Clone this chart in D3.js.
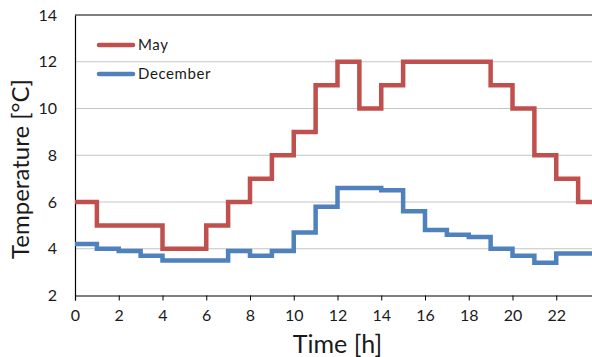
<!DOCTYPE html>
<html>
<head>
<meta charset="utf-8">
<script src="https://cdn.jsdelivr.net/npm/d3@7"></script>
<style>
  html, body { margin: 0; padding: 0; background: #fff; overflow: hidden; }
  svg { display: block; font-family: Lato, "Open Sans", sans-serif; }
</style>
</head>
<body>
<svg id="chart" width="592" height="357"></svg>
<script>
// Hourly temperature profiles (value holds from the hour until the next one)
const hours = d3.range(0, 24);
const mayTemps = [6, 5, 5, 5, 4, 4, 5, 6, 7, 8, 9, 11, 12, 10, 11, 12, 12, 12, 12, 11, 10, 8, 7, 6];
const decemberTemps = [4.2, 4.0, 3.9, 3.7, 3.5, 3.5, 3.5, 3.9, 3.7, 3.9, 4.7, 5.8, 6.6, 6.6, 6.5, 5.6, 4.8, 4.6, 4.5, 4.0, 3.7, 3.4, 3.8, 3.8];
const seriesNames = ["May", "December"];
const seriesColors = ["#C0504D", "#4F81BD"];
const xTicks = d3.range(0, 24, 2);
const yTicks = [2, 4, 6, 8, 10, 12, 14];

const textColor = "#1a1a1a";
const svg = d3.select("#chart");
const plotLeft = 75, plotTop = 15, plotBottom = 295.5, plotRight = 600;

const x = d3.scaleLinear().domain([0, 24]).range([plotLeft, plotRight]);
const y = d3.scaleLinear().domain([2, 14]).range([plotBottom, plotTop]);

// Horizontal gridlines
svg.append("g")
  .selectAll("line")
  .data(yTicks.filter(v => v > 2 && v < 14))
  .join("line")
  .attr("x1", plotLeft).attr("x2", plotRight)
  .attr("y1", d => y(d)).attr("y2", d => y(d))
  .attr("stroke", "#c4c4c4").attr("stroke-width", 1);

// Top border
svg.append("line")
  .attr("x1", plotLeft).attr("x2", plotRight)
  .attr("y1", plotTop).attr("y2", plotTop)
  .attr("stroke", "#000").attr("stroke-width", 1.2);

// X axis
const xAxis = svg.append("g")
  .attr("transform", `translate(0,${plotBottom})`)
  .call(d3.axisBottom(x).tickValues(xTicks).tickSize(5).tickPadding(9).tickFormat(d3.format("d")));
xAxis.select(".domain").attr("stroke", "#000").attr("stroke-width", 1.2);
xAxis.selectAll(".tick line").attr("stroke", "#000");
xAxis.selectAll("text").attr("font-size", 16).attr("fill", textColor).attr("font-family", "Lato, sans-serif");

// Y axis
const yAxis = svg.append("g")
  .attr("transform", `translate(${plotLeft},0)`)
  .call(d3.axisLeft(y).tickValues(yTicks).tickSize(0).tickPadding(18).tickFormat(d3.format("d")));
yAxis.select(".domain").attr("stroke", "#000").attr("stroke-width", 1.2);
yAxis.selectAll("text").attr("font-size", 16).attr("fill", textColor).attr("font-family", "Lato, sans-serif");

// Axis titles
svg.append("text")
  .attr("x", (plotLeft + plotRight) / 2).attr("y", 353)
  .attr("text-anchor", "middle")
  .attr("font-size", 25).attr("fill", textColor)
  .text("Time [h]");

svg.append("text")
  .attr("transform", "translate(29,169) rotate(-90)")
  .attr("text-anchor", "middle")
  .attr("font-size", 24).attr("fill", textColor)
  .text("Temperature [°C]");

// Step lines
const line = d3.line()
  .x(d => x(d[0]))
  .y(d => y(d[1]))
  .curve(d3.curveStepAfter);

const series = [mayTemps, decemberTemps].map(vals => {
  const pts = hours.map((h, i) => [h, vals[i]]);
  pts.push([24, vals[vals.length - 1]]);
  return pts;
});

// December drawn first so May sits on top
[1, 0].forEach(i => {
  svg.append("path")
    .datum(series[i])
    .attr("d", line)
    .attr("fill", "none")
    .attr("stroke", seriesColors[i])
    .attr("stroke-width", 4.5)
    .attr("stroke-linejoin", "miter");
});

// Legend
const legend = svg.append("g");
seriesNames.forEach((name, i) => {
  const ly = 45 + i * 29;
  legend.append("line")
    .attr("x1", 99).attr("x2", 133)
    .attr("y1", ly).attr("y2", ly)
    .attr("stroke", seriesColors[i]).attr("stroke-width", 4.5)
    .attr("stroke-linecap", "round");
  legend.append("text")
    .attr("x", 138).attr("y", ly + 5)
    .attr("font-size", 15).attr("letter-spacing", 0.6).attr("fill", textColor)
    .text(name);
});
</script>
</body>
</html>
